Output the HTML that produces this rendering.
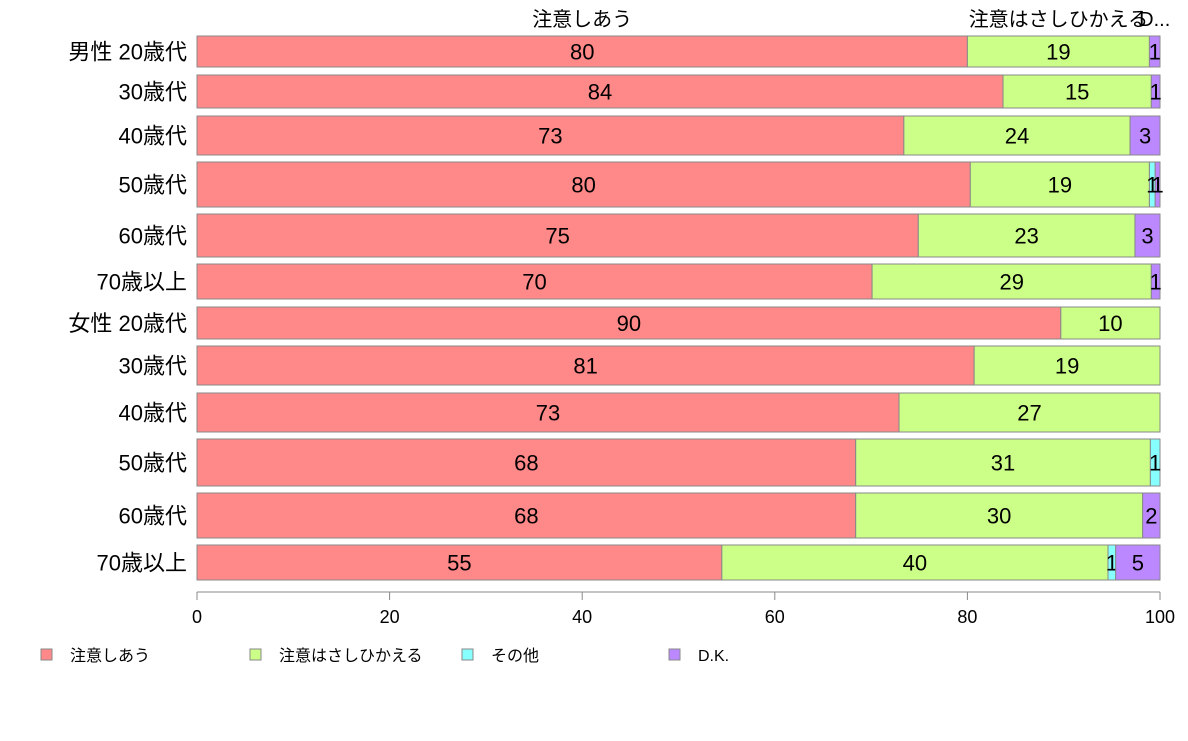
<!DOCTYPE html>
<html><head><meta charset="utf-8"><style>
body{margin:0;background:#fff;}
svg{font-family:"Liberation Sans","Noto Sans CJK JP",sans-serif;}
</style></head><body>
<svg id="c" width="1188" height="736"></svg>
<script>
const categories=["男性 20歳代","30歳代","40歳代","50歳代","60歳代","70歳以上","女性 20歳代","30歳代","40歳代","50歳代","60歳代","70歳以上"];
const seriesNames=["注意しあう","注意はさしひかえる","その他","D.K."];
const s1=[80.0,83.7,73.4,80.3,74.9,70.1,89.7,80.7,72.9,68.4,68.4,54.5];
const s2=[18.9,15.4,23.5,18.6,22.5,29.0,10.3,19.3,27.1,30.6,29.8,40.1];
const s3=[0,0,0,0.6,0,0,0,0,0,1.0,0,0.8];
const s4=[1.1,0.9,3.1,0.5,2.6,0.9,0,0,0,0,1.8,4.6];
const rowTop=[36,75,116,162,214,264,307,346,393,439,493,545];
const rowBot=[67,108,155,207,257,299,339,385,432,486,538,580];
const ticks=[0,20,40,60,80,100];
const colors=["#ff8888","#ccff88","#88ffff","#bb88ff"];
const svg=document.getElementById('c');const NS="http://www.w3.org/2000/svg";
const x0=197,x1=1160;const X=v=>x0+(x1-x0)*v/100;
function mk(t,a,p){const e=document.createElementNS(NS,t);for(const k in a)e.setAttribute(k,a[k]);(p||svg).appendChild(e);return e;}
const series=[s1,s2,s3,s4];
categories.forEach((c,i)=>{
 const g=mk('g',{});
 
 
 let acc=0;const y=rowTop[i],h=rowBot[i]-rowTop[i];
 series.forEach((s,j)=>{
  const v=s[i];if(v<=0)return;
  const r=mk('rect',{x:X(acc),y:y,width:X(acc+v)-X(acc),height:h,fill:colors[j],stroke:"#888","stroke-width":1},g);
  
  
  const t=mk('text',{x:(X(acc)+X(acc+v))/2,y:y+h/2+8,"text-anchor":"middle","font-size":22,fill:"#000"},g);
  t.textContent=Math.round(v);
  
  
  if(i===0){const tt=mk('text',{x:(X(acc)+X(acc+v))/2,y:26,"text-anchor":"middle","font-size":20},g);tt.textContent=j===0?seriesNames[0]:j===1?seriesNames[1]:(j===3?"D...":"その");
   
   }
  acc+=v;
 });
 const cl=mk('text',{x:187,y:y+h/2+8,"text-anchor":"end","font-size":22},g);
 cl.textContent=c;
 
 
});
const ax=mk('g',{});


mk('line',{x1:x0,x2:x1,y1:592,y2:592,stroke:"#888"},ax);
ticks.forEach(t=>{mk('line',{x1:X(t),x2:X(t),y1:592,y2:600,stroke:"#888"},ax);
 const tl=mk('text',{x:X(t),y:623,"text-anchor":"middle","font-size":18},ax);tl.textContent=t;
 
 });
const lx=[41,250,462,669];
seriesNames.forEach((n,j)=>{
 const g=mk('g',{});
 
 
 mk('rect',{x:lx[j],y:649,width:11,height:11,fill:colors[j],stroke:"#888"},g);
 const t=mk('text',{x:lx[j]+29,y:661,"font-size":16},g);t.textContent=n;
});
</script>
</body></html>
